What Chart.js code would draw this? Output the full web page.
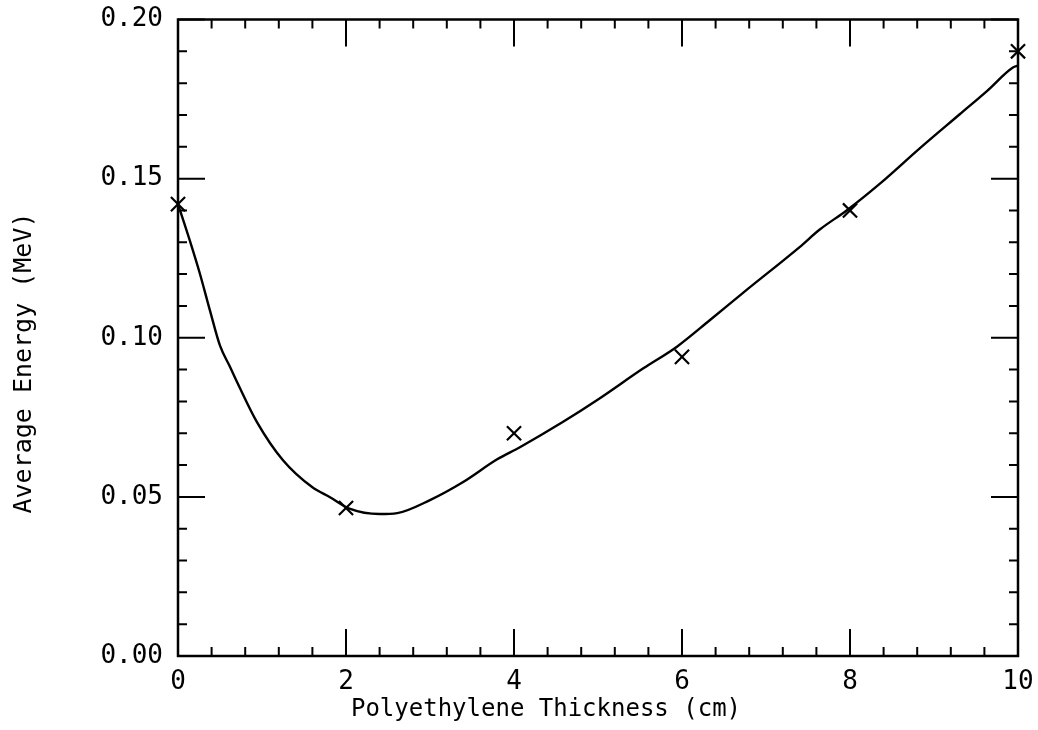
<!DOCTYPE html>
<html>
<head>
<meta charset="utf-8">
<script src="https://cdn.jsdelivr.net/npm/chart.js@4"></script>
<style>
  html, body { margin: 0; padding: 0; background: #fff; }
  #wrap { width: 1038px; height: 730px; }
</style>
</head>
<body>
<div id="wrap"><canvas id="chart" width="1038" height="730"></canvas></div>
<script>
// measured points (x marks)
const thickness = [0, 2, 4, 6, 8, 10];
const avgEnergy = [0.142, 0.0465, 0.070, 0.094, 0.140, 0.190];

// fitted curve
const curveX = [0, 0.14, 0.26, 0.38, 0.5, 0.62, 0.71, 0.94, 1.25, 1.6, 1.81, 2.05, 2.4, 2.61, 3.0, 3.39,
  3.8, 4.07, 4.58, 5.0, 5.54, 5.94, 6.33, 6.73, 7.4, 7.64, 7.96, 8.36, 8.83, 9.31, 9.63, 9.94, 10];
const curveY = [0.142, 0.1306, 0.1202, 0.1086, 0.0975, 0.0908, 0.0857, 0.0735, 0.0615, 0.053, 0.0499, 0.0462,
  0.0446, 0.0449, 0.049, 0.0546, 0.0618, 0.0656, 0.0735, 0.0806, 0.0904, 0.0972, 0.1055, 0.1142,
  0.1285, 0.134, 0.140, 0.1485, 0.1595, 0.1703, 0.1775, 0.1849, 0.1855];

const xTickLabels = ['0', '2', '4', '6', '8', '10'];
const yTickLabels = ['0.00', '0.05', '0.10', '0.15', '0.20'];

const xTitle = 'Polyethylene Thickness (cm)';
const yTitle = 'Average Energy (MeV)';

const FONT = '"DejaVu Sans Mono", monospace';

// frame, inward ticks on all four sides, axis titles
const framePlugin = {
  id: 'frame',
  afterDraw(chart) {
    const ctx = chart.ctx;
    const area = chart.chartArea;
    const xs = chart.scales.x;
    const ys = chart.scales.y;
    const major = 27, minor = 9;
    ctx.save();
    ctx.strokeStyle = '#000';
    ctx.lineWidth = 2.5;
    ctx.strokeRect(area.left, area.top, area.right - area.left, area.bottom - area.top);

    ctx.lineWidth = 2;
    ctx.beginPath();
    for (let i = 0; i <= 25; i++) {
      const px = xs.getPixelForValue(i * 0.4);
      const len = (i % 5 === 0) ? major : minor;
      ctx.moveTo(px, area.bottom); ctx.lineTo(px, area.bottom - len);
      ctx.moveTo(px, area.top); ctx.lineTo(px, area.top + len);
    }
    for (let i = 0; i <= 20; i++) {
      const py = ys.getPixelForValue(i * 0.01);
      const len = (i % 5 === 0) ? major : minor;
      ctx.moveTo(area.left, py); ctx.lineTo(area.left + len, py);
      ctx.moveTo(area.right, py); ctx.lineTo(area.right - len, py);
    }
    ctx.stroke();

    ctx.fillStyle = '#000';
    ctx.textAlign = 'center';
    ctx.textBaseline = 'middle';
    ctx.font = '24px ' + FONT;
    ctx.fillText(xTitle, 546, 710);
    ctx.font = '25px ' + FONT;
    ctx.translate(24, 363);
    ctx.rotate(-Math.PI / 2);
    ctx.fillText(yTitle, 0, 0);
    ctx.restore();
  }
};

new Chart(document.getElementById('chart'), {
  type: 'scatter',
  data: {
    datasets: [
      {
        label: 'fit',
        data: curveX.map((x, i) => ({ x: x, y: curveY[i] })),
        showLine: true,
        borderColor: '#000',
        borderWidth: 2.4,
        pointRadius: 0,
        cubicInterpolationMode: 'monotone'
      },
      {
        label: 'measured',
        data: thickness.map((x, i) => ({ x: x, y: avgEnergy[i] })),
        showLine: false,
        pointStyle: 'crossRot',
        pointRadius: 10,
        borderColor: '#000',
        borderWidth: 2.2
      }
    ]
  },
  options: {
    responsive: false,
    devicePixelRatio: 1,
    animation: false,
    clip: false,
    layout: { padding: { top: 19.5, right: 20, left: 0, bottom: 0 } },
    plugins: { legend: { display: false }, tooltip: { enabled: false } },
    scales: {
      x: {
        type: 'linear',
        min: 0,
        max: 10,
        afterFit: (s) => { s.height = 74; s.paddingLeft = 0; s.paddingRight = 0; },
        afterBuildTicks: (s) => { s.ticks = xTickLabels.map(t => ({ value: Number(t) })); },
        ticks: {
          callback: (v, i) => xTickLabels[i],
          color: '#000',
          font: { family: FONT, size: 26 },
          padding: 11,
          maxRotation: 0,
          autoSkip: false
        },
        grid: { display: false, drawTicks: false },
        border: { display: false }
      },
      y: {
        type: 'linear',
        min: 0,
        max: 0.2,
        afterFit: (s) => { s.width = 178; s.paddingTop = 0; s.paddingBottom = 0; },
        afterBuildTicks: (s) => { s.ticks = yTickLabels.map(t => ({ value: Number(t) })); },
        ticks: {
          callback: (v, i) => yTickLabels[i],
          color: '#000',
          font: { family: FONT, size: 26 },
          padding: 15,
          autoSkip: false
        },
        grid: { display: false, drawTicks: false },
        border: { display: false }
      }
    }
  },
  plugins: [framePlugin]
});
</script>
</body>
</html>
